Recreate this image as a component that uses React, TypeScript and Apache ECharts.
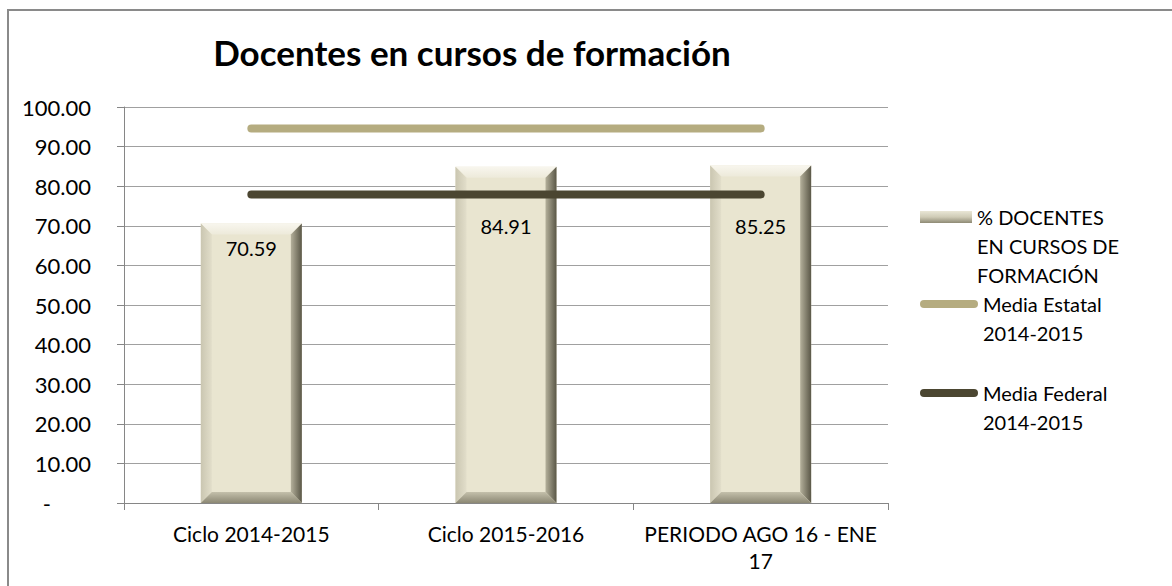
import React, { useEffect, useRef } from "react";
import * as echarts from "echarts";

const titleText = "Docentes en cursos de formación";
const categories = ["Ciclo 2014-2015", "Ciclo 2015-2016", "PERIODO AGO 16 - ENE\n17"];
const docentes = [70.59, 84.91, 85.25];
const mediaEstatal = [94.6, 94.6, 94.6];
const mediaFederal = [77.9, 77.9, 77.9];
const seriesNames = [
  "% DOCENTES EN CURSOS DE FORMACIÓN",
  "Media Estatal 2014-2015",
  "Media Federal 2014-2015",
];
const legendLabels = [
  ["% DOCENTES", "EN CURSOS DE", "FORMACIÓN"],
  ["Media Estatal", "2014-2015"],
  ["Media Federal", "2014-2015"],
];

const FONT = "Lato, 'Open Sans', sans-serif";

export default function App() {
  const ref = useRef<HTMLDivElement>(null);
  useEffect(() => {
    if (!ref.current) return;
    const chart = echarts.init(ref.current, undefined, { renderer: "svg" });
    const LG = echarts.graphic.LinearGradient;
    const capsule = "path://M4,0L54,0A4,4,0,0,1,54,8L4,8A4,4,0,0,1,4,0Z";
    const lh = 29;
    const mkLegend = (i: number, iconY: number, icon: string, w: number, h: number, color: any) => {
      const lines = legendLabels[i];
      const pad = new Array(lines.length - 1).fill("");
      const text = pad.concat(lines).join("\n");
      const total = (lines.length * 2 - 1) * lh;
      return {
        show: true,
        left: 920,
        top: iconY - total / 2,
        padding: 0,
        orient: "vertical",
        itemWidth: w,
        itemHeight: h,
        selectedMode: false,
        data: [{ name: seriesNames[i], icon, itemStyle: { color } }],
        formatter: () => text,
        textStyle: {
          fontFamily: FONT,
          fontSize: 20,
          color: "#000",
          lineHeight: lh,
        },
      };
    };
    const option: any = {
      animation: false,
      backgroundColor: "#fff",
      textStyle: { fontFamily: FONT },
      title: {
        text: titleText,
        left: 472,
        top: 34,
        padding: 0,
        textAlign: "center",
        textStyle: { fontFamily: FONT, fontSize: 35, fontWeight: "bold", color: "#000" },
      },
      graphic: [
        {
          type: "rect",
          shape: { x: 8, y: 10, width: 1300, height: 700 },
          style: { fill: "none", stroke: "#8a8a8a", lineWidth: 2 },
          silent: true,
          z: -1,
        },
      ],
      legend: [
        mkLegend(0, 217, "rect", 52, 12,
          new LG(0, 0, 0, 1, [
            { offset: 0, color: "#E9E6D6" },
            { offset: 0.5, color: "#CFCBB6" },
            { offset: 1, color: "#8E8A75" },
          ])),
        mkLegend(1, 304, capsule, 58, 8, "#B5AC80"),
        mkLegend(2, 393, capsule, 58, 8, "#4B4631"),
      ],
      grid: { left: 124, right: 284, top: 107, bottom: 83, containLabel: false },
      xAxis: {
        type: "category",
        data: categories,
        axisLine: { lineStyle: { color: "#868686", width: 1 } },
        axisTick: { show: true, length: 7, lineStyle: { color: "#868686" } },
        axisLabel: { fontFamily: FONT, fontSize: 21, color: "#000", margin: 17, lineHeight: 27, interval: 0 },
        splitLine: { show: false },
      },
      yAxis: {
        type: "value",
        min: 0,
        max: 100,
        interval: 10,
        axisLine: { show: true, lineStyle: { color: "#868686", width: 1 } },
        axisTick: { show: true, length: 7, lineStyle: { color: "#868686" } },
        axisLabel: {
          fontFamily: FONT,
          fontSize: 22,
          color: "#000",
          margin: 33,
          formatter: (v: number) => (v === 0 ? "{d|-}" : v.toFixed(2)),
          rich: { d: { fontFamily: FONT, fontSize: 22, color: "#000", padding: [0, 40, 0, 0] } },
        },
        splitLine: { lineStyle: { color: "#A0A0A0", width: 1 } },
      },
      series: [
        {
          name: seriesNames[0],
          type: "custom",
          itemStyle: { color: "#D8D4BF" },
          encode: { x: 0, y: 1 },
          data: docentes.map((v, i) => [i, v]),
          renderItem: (params: any, api: any) => {
            const idx = api.value(0);
            const v = api.value(1);
            const top = api.coord([idx, v]);
            const base = api.coord([idx, 0]);
            const fedY = api.coord([idx, mediaFederal[idx]])[1];
            const w = 101;
            const b = 11;
            const x0 = top[0] - w / 2;
            const x1 = top[0] + w / 2;
            const y0 = top[1];
            const y1 = base[1];
            const labelY = Math.max(y0 + 25, fedY + 31);
            return {
              type: "group",
              children: [
                { type: "rect", shape: { x: x0, y: y0, width: w, height: y1 - y0 }, style: { fill: "#E9E5D0" } },
                {
                  type: "polygon",
                  shape: { points: [[x0, y0], [x1, y0], [x1 - b, y0 + b], [x0 + b, y0 + b]] },
                  style: { fill: new LG(0, 0, 0, 1, [{ offset: 0, color: "#F8F6EE" }, { offset: 1, color: "#EDEADA" }]) },
                },
                {
                  type: "polygon",
                  shape: { points: [[x0, y0], [x0 + b, y0 + b], [x0 + b, y1 - b], [x0, y1]] },
                  style: { fill: new LG(0, 0, 1, 0, [{ offset: 0, color: "#CAC6B1" }, { offset: 1, color: "#E2DECA" }]) },
                },
                {
                  type: "polygon",
                  shape: { points: [[x1, y0], [x1, y1], [x1 - b, y1 - b], [x1 - b, y0 + b]] },
                  style: { fill: new LG(0, 0, 1, 0, [{ offset: 0, color: "#B4B09B" }, { offset: 1, color: "#5A5747" }]) },
                },
                {
                  type: "polygon",
                  shape: { points: [[x0, y1], [x1, y1], [x1 - b, y1 - b], [x0 + b, y1 - b]] },
                  style: { fill: new LG(0, 0, 0, 1, [{ offset: 0, color: "#C4C0AB" }, { offset: 1, color: "#8C8874" }]) },
                },
                {
                  type: "text",
                  style: {
                    text: v.toFixed(2),
                    x: top[0],
                    y: labelY,
                    align: "center",
                    verticalAlign: "middle",
                    fontFamily: FONT,
                    fontSize: 20,
                    fill: "#000",
                  },
                  z2: 10,
                },
              ],
            };
          },
          z: 2,
        },
        {
          name: seriesNames[1],
          type: "line",
          data: mediaEstatal,
          symbol: "none",
          lineStyle: { color: "#B5AC80", width: 8, cap: "round" },
          itemStyle: { color: "#B5AC80" },
          z: 3,
        },
        {
          name: seriesNames[2],
          type: "line",
          data: mediaFederal,
          symbol: "none",
          lineStyle: { color: "#4B4631", width: 8, cap: "round" },
          itemStyle: { color: "#4B4631" },
          z: 3,
        },
      ],
    };
    chart.setOption(option);
    return () => chart.dispose();
  }, []);
  return (
    <div
      ref={ref}
      style={{ position: "fixed", left: 0, top: 0, width: 1172, height: 586, background: "#fff" }}
    />
  );
}
